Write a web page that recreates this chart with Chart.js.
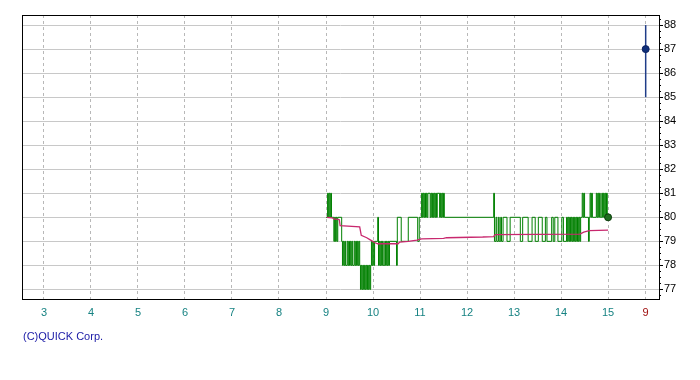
<!DOCTYPE html>
<html>
<head>
<meta charset="utf-8">
<script src="https://cdn.jsdelivr.net/npm/chart.js@4.4.0/dist/chart.umd.min.js"></script>
<style>
  body { margin: 0; background: #fff; }
  canvas { display: block; }
</style>
</head>
<body>
<canvas id="chart" width="700" height="380"></canvas>
<script>
// x values are minutes since midnight; the last tick is the next day's 9:00 slot
const tickLabels = ['3', '4', '5', '6', '7', '8', '9', '10', '11', '12', '13', '14', '15', '9'];
const tickMinutes = [180, 240, 300, 360, 420, 480, 540, 600, 660, 720, 780, 840, 900, 948];
const yTicks = [77, 78, 79, 80, 81, 82, 83, 84, 85, 86, 87, 88];

// tick-by-tick price [minute, price]
const trades = [
  [540,80],
  [542,81],[543,80],[544,81],[545,80],[546,81],[547,80],
  [550,79],[551,80],[552,79],[553,80],[554,79],[555,80],
  [560,79],
  [561,78],[562,79],[563,78],[564,79],[565,78],[567,79],[568,78],[569,79],[570,78],[571,79],[572,78],
  [573,79],[574,78],[576,79],[577,78],[578,79],[579,78],[580,79],[581,78],[582,79],[583,78],
  [584,77],[585,78],[586,77],[587,78],[588,77],[589,78],[590,77],[591,78],[592,77],[593,78],
  [594,77],[595,78],[596,77],[597,78],
  [598,79],[599,78],[600,79],[601,78],[602,79],
  [606,80],[607,78],
  [608,79],[609,78],[610,79],[611,78],[612,79],[613,78],[615,79],[616,78],[617,79],[618,78],
  [619,79],[620,78],[621,79],
  [630,78],[631,80],
  [636,79],[645,80],[657,79],[659,80],
  [662,81],[663,80],[664,81],[665,80],[666,81],[667,80],[668,81],[669,80],[670,81],[673,80],
  [674,81],[675,80],[676,81],[677,80],[678,81],[679,80],[680,81],[681,80],[682,81],[685,80],
  [686,81],[687,80],[688,81],[689,80],[690,81],[691,80],
  [754,81],[755,79],
  [757,80],[758,79],[760,80],[761,79],[763,80],[764,79],[766,80],
  [771,79],[775,80],[788,79],[791,80],[798,79],[803,80],[807,79],[811,80],[816,79],[820,80],
  [822,79],[828,80],[830,79],[832,80],[836,79],[841,80],[843,79],[847,80],
  [848,79],[849,80],[850,79],[851,80],[852,79],[853,80],[854,79],[855,80],[856,79],[857,80],
  [858,79],[859,80],[860,79],[861,80],[862,79],[863,80],[864,79],[865,80],
  [867,81],[868,80],[869,81],[870,80],
  [875,79],[876,80],
  [877,81],[878,80],[879,81],[880,80],
  [885,81],[886,80],[887,81],[888,80],[889,81],[890,80],
  [892,81],[893,80],[894,81],[895,80],[896,81],[897,80],[898,81],[899,80],[900,80]
];

// volume weighted average [minute, price]
const vwap = [
  [541,80.0],[548,79.98],[550,79.93],[557,79.9],[558,79.65],[583,79.6],[585,79.25],[592,79.15],
  [597,79.05],[602,78.95],[606,78.9],[632,78.9],[634,78.97],[645,79.0],[656,79.05],[662,79.1],
  [690,79.12],[694,79.15],[740,79.18],[754,79.2],[756,79.28],[864,79.3],[869,79.38],[876,79.45],
  [900,79.47]
];

const closeMinute = 900, closePrice = 80;
// next session quote
const nextMinute = 948, nextHigh = 88, nextLow = 85, nextLast = 87;

const copyright = '(C)QUICK Corp.';

const frame = {
  id: 'frame',
  afterDraw(chart) {
    const { ctx, chartArea: a, scales: { y } } = chart;
    ctx.save();
    ctx.strokeStyle = '#000';
    ctx.lineWidth = 1;
    ctx.strokeRect(a.left + 0.5, a.top + 0.5, a.right - a.left, a.bottom - a.top);
    // minor ticks on the price axis
    ctx.beginPath();
    for (let v = 76.75; v <= 88.3; v += 0.25) {
      const py = Math.round(y.getPixelForValue(v)) + 0.5;
      if (py < a.top || py > a.bottom) continue;
      ctx.moveTo(a.right, py);
      ctx.lineTo(a.right + 2, py);
    }
    ctx.stroke();
    ctx.fillStyle = '#1a1aa6';
    ctx.font = '11px "Liberation Sans", Arial, sans-serif';
    ctx.textBaseline = 'middle';
    ctx.fillText(copyright, 23, 337);
    ctx.restore();
  }
};

new Chart(document.getElementById('chart').getContext('2d'), {
  type: 'line',
  data: {
    datasets: [
      {
        data: [{ x: nextMinute, y: nextLast }],
        pointRadius: 3.5,
        pointBackgroundColor: '#0f2f7a',
        pointBorderColor: '#0a2060',
        showLine: false
      },
      {
        data: [{ x: closeMinute, y: closePrice }],
        pointRadius: 3.5,
        pointBackgroundColor: '#1f6e1f',
        pointBorderColor: '#0b3b0b',
        showLine: false
      },
      {
        data: [{ x: nextMinute, y: nextLow }, { x: nextMinute, y: nextHigh }],
        borderColor: '#1f3c88',
        borderWidth: 1.5,
        pointRadius: 0
      },
      {
        data: vwap.map(p => ({ x: p[0], y: p[1] })),
        borderColor: '#c8286e',
        borderWidth: 1.3,
        pointRadius: 0
      },
      {
        data: trades.map(p => ({ x: p[0], y: p[1] })),
        borderColor: '#008000',
        borderWidth: 1,
        pointRadius: 0,
        stepped: true
      }
    ]
  },
  options: {
    responsive: false,
    animation: false,
    devicePixelRatio: 1,
    layout: { padding: { left: 22, top: 15, right: 0, bottom: 59 } },
    plugins: { legend: { display: false }, tooltip: { enabled: false } },
    scales: {
      x: {
        type: 'linear',
        min: 152,
        max: 965,
        afterBuildTicks: scale => { scale.ticks = tickMinutes.map(v => ({ value: v })); },
        afterFit: scale => { scale.height = 22; },
        ticks: {
          autoSkip: false,
          maxRotation: 0,
          padding: 7,
          font: { family: '"Liberation Sans", Arial, sans-serif', size: 11 },
          color: ctx => ctx.index === tickLabels.length - 1 ? '#a01010' : '#168282',
          callback: (v, i) => tickLabels[i]
        },
        grid: { color: '#b8b8b8', drawTicks: false },
        border: { color: '#000', dash: [3, 3] }
      },
      y: {
        position: 'right',
        min: 76.6,
        max: 88.42,
        afterBuildTicks: scale => { scale.ticks = yTicks.map(v => ({ value: v })); },
        afterFit: scale => { scale.width = 41; },
        ticks: {
          padding: 1,
          font: { family: '"Liberation Sans", Arial, sans-serif', size: 11 },
          color: '#000',
          callback: v => v
        },
        grid: { color: '#c8c8c8', tickColor: '#000', tickLength: 4 },
        border: { color: '#000' }
      }
    }
  },
  plugins: [frame]
});
</script>
</body>
</html>
